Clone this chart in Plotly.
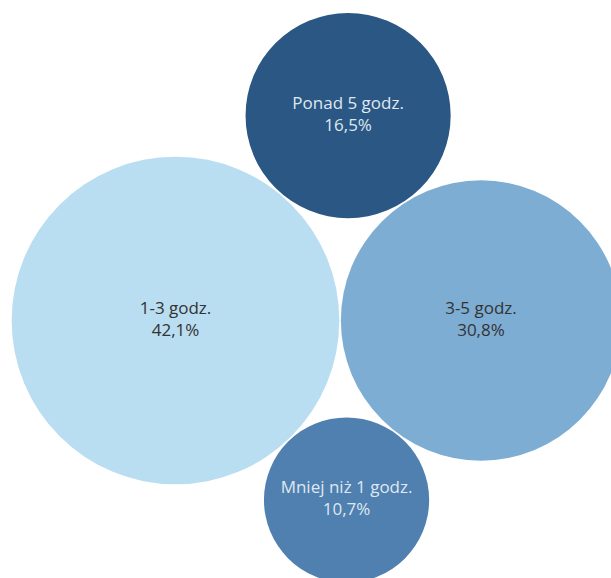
import math
import plotly.graph_objects as go

# Data
categories = ["1-3 godz.", "3-5 godz.", "Ponad 5 godz.", "Mniej niż 1 godz."]
values = [42.1, 30.8, 16.5, 10.7]
labels = ["42,1%", "30,8%", "16,5%", "10,7%"]
colors = ["#b9ddf1", "#7eadd4", "#2a5783", "#4f80b0"]
text_colors = ["#333333", "#333333", "#dfe8f1", "#dfe8f1"]

# Radii proportional to sqrt(value)
r = [math.sqrt(v) for v in values]
gap = 0.06

def tangent(c1, r1, c2, r2, r3, sign):
    # circle of radius r3 tangent to two circles (with gap)
    a = r1 + r3 + gap
    b = r2 + r3 + gap
    dx, dy = c2[0] - c1[0], c2[1] - c1[1]
    d = math.hypot(dx, dy)
    x = (a * a - b * b + d * d) / (2 * d)
    h = math.sqrt(max(a * a - x * x, 0))
    ux, uy = dx / d, dy / d
    return (c1[0] + ux * x - sign * uy * h, c1[1] + uy * x + sign * ux * h)

cA = (0.0, 0.0)
cB = (r[0] + r[1] + gap, 0.0)
cC = tangent(cA, r[0], cB, r[1], r[2], 1)   # above
cD = tangent(cA, r[0], cB, r[1], r[3], -1)  # below
centers = [cA, cB, cC, cD]

s = 25.25  # px per unit
W, H = 611, 578
ax_px, ay_px = 175.5, 320.5

fig = go.Figure()
shapes = []
for (cx, cy), rr, col in zip(centers, r, colors):
    shapes.append(dict(type="circle", xref="x", yref="y",
                       x0=cx - rr, x1=cx + rr, y0=cy - rr, y1=cy + rr,
                       fillcolor=col, line=dict(width=0), layer="below"))

for (cx, cy), cat, lab, tc in zip(centers, categories, labels, text_colors):
    fig.add_trace(go.Scatter(x=[cx], y=[cy], mode="text",
                             text=[f"{cat}<br>{lab}"],
                             textposition="middle center",
                             textfont=dict(family="Open Sans", size=17, color=tc),
                             hoverinfo="skip", showlegend=False))

fig.update_layout(
    width=W, height=H,
    margin=dict(l=0, r=0, t=0, b=0),
    paper_bgcolor="white", plot_bgcolor="white",
    shapes=shapes,
    xaxis=dict(range=[-ax_px / s, (W - ax_px) / s], visible=False, fixedrange=True),
    yaxis=dict(range=[-(H - ay_px) / s, ay_px / s], visible=False, fixedrange=True),
    showlegend=False,
)
fig.write_html("out.html")
